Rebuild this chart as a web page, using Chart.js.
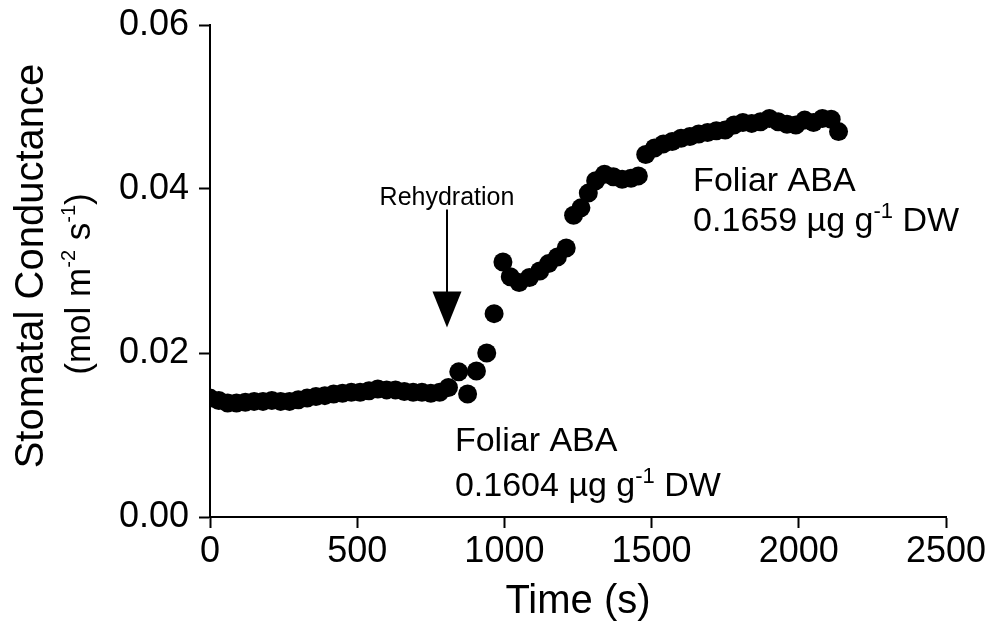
<!DOCTYPE html>
<html>
<head>
<meta charset="utf-8">
<script src="https://cdn.jsdelivr.net/npm/chart.js@4.4.1/dist/chart.umd.min.js"></script>
<style>
  html, body { margin: 0; padding: 0; background: #ffffff; }
  #wrap { width: 993px; height: 637px; position: relative; }
</style>
</head>
<body>
<div id="wrap"><canvas id="c" width="993" height="637"></canvas></div>
<script>
// ---- data ----
const timeS = [0,30,60,90,120,150,180,210,240,270,300,330,360,390,420,450,480,510,540,570,600,630,660,690,720,750,780,810,845,875,905,940,965,995,1020,1050,1085,1120,1150,1180,1210,1235,1260,1285,1310,1340,1370,1400,1430,1455,1480,1510,1540,1570,1600,1630,1660,1690,1720,1750,1780,1810,1840,1870,1900,1930,1960,1990,2020,2050,2080,2110,2135];
const conductance = [0.0145,0.0142,0.0139,0.0139,0.0140,0.0141,0.0141,0.0142,0.0141,0.0141,0.0143,0.0145,0.0147,0.0148,0.0150,0.0151,0.0152,0.0152,0.0154,0.0156,0.0155,0.0155,0.0153,0.0152,0.0152,0.0151,0.0152,0.0158,0.0177,0.0150,0.0178,0.0200,0.0248,0.0311,0.0293,0.0286,0.0292,0.0300,0.0309,0.0317,0.0328,0.0368,0.0377,0.0395,0.0410,0.0418,0.0415,0.0412,0.0413,0.0416,0.0442,0.0450,0.0455,0.0458,0.0462,0.0464,0.0467,0.0469,0.0471,0.0472,0.0478,0.0481,0.0480,0.0482,0.0486,0.0482,0.0479,0.0478,0.0484,0.0481,0.0486,0.0485,0.0470];
const xTickValues = [0,500,1000,1500,2000,2500];
const yTickValues = [0.00,0.02,0.04,0.06];
const xTitle = 'Time (s)';
const yTitleLine1 = 'Stomatal Conductance';
const yTitleLine2 = [{t:'(mol m'},{t:'-2',sup:true},{t:' s'},{t:'-1',sup:true},{t:')'}];
const rehydrationLabel = 'Rehydration';
const rehydrationTime = 805;
const arrowTop = 0.0375, arrowTip = 0.0231, rehydrationTextY = 0.0381;
const lowerNote = {time: 832, y1: 0.00805, y2: 0.00256, line1: 'Foliar ABA', line2: [{t:'0.1604 µg g'},{t:'-1',sup:true},{t:' DW'}]};
const upperNote = {time: 1641, y1: 0.0397, y2: 0.0349, line1: 'Foliar ABA', line2: [{t:'0.1659 µg g'},{t:'-1',sup:true},{t:' DW'}]};

const FONT = "'Liberation Sans', Arial, Helvetica, sans-serif";

function richWidth(ctx, segs, size, supSize) {
  let w = 0;
  for (const s of segs) {
    ctx.font = (s.sup ? supSize : size) + 'px ' + FONT;
    w += ctx.measureText(s.t).width;
  }
  return w;
}
function drawRich(ctx, segs, x, y, size, supSize, rise) {
  let cx = x;
  ctx.textBaseline = 'alphabetic';
  ctx.textAlign = 'left';
  for (const s of segs) {
    ctx.font = (s.sup ? supSize : size) + 'px ' + FONT;
    ctx.fillText(s.t, cx, s.sup ? y - rise : y);
    cx += ctx.measureText(s.t).width;
  }
}

const annotations = {
  id: 'annotations',
  afterDraw(chart) {
    const ctx = chart.ctx;
    const xs = chart.scales.x, ys = chart.scales.y;
    ctx.save();
    ctx.fillStyle = '#000';
    ctx.strokeStyle = '#000';
    // Y title
    ctx.save();
    ctx.translate(43, 266);
    ctx.rotate(-Math.PI / 2);
    ctx.font = '40px ' + FONT;
    ctx.textAlign = 'center';
    ctx.textBaseline = 'alphabetic';
    ctx.fillText(yTitleLine1, 0, 0);
    ctx.restore();
    ctx.save();
    ctx.translate(90, 284);
    ctx.rotate(-Math.PI / 2);
    const w2 = richWidth(ctx, yTitleLine2, 35, 20);
    drawRich(ctx, yTitleLine2, -w2 / 2, 0, 35, 20, 15);
    ctx.restore();

    // Rehydration arrow
    const ax = xs.getPixelForValue(rehydrationTime);
    const ay0 = ys.getPixelForValue(arrowTop);
    const ay1 = ys.getPixelForValue(arrowTip);
    const headLen = 36, headHalf = 14.5;
    ctx.lineWidth = 2;
    ctx.beginPath();
    ctx.moveTo(ax, ay0);
    ctx.lineTo(ax, ay1 - headLen + 2);
    ctx.stroke();
    ctx.beginPath();
    ctx.moveTo(ax - headHalf, ay1 - headLen);
    ctx.lineTo(ax + headHalf, ay1 - headLen);
    ctx.lineTo(ax, ay1);
    ctx.closePath();
    ctx.fill();
    ctx.font = '25px ' + FONT;
    ctx.textAlign = 'center';
    ctx.textBaseline = 'alphabetic';
    ctx.fillText(rehydrationLabel, ax, ys.getPixelForValue(rehydrationTextY));

    // Notes
    for (const n of [lowerNote, upperNote]) {
      const nx = xs.getPixelForValue(n.time);
      ctx.font = '34px ' + FONT;
      ctx.textAlign = 'left';
      ctx.fillText(n.line1, nx, ys.getPixelForValue(n.y1));
      drawRich(ctx, n.line2, nx, ys.getPixelForValue(n.y2), 34, 22, 13);
    }
    ctx.restore();
  }
};

new Chart(document.getElementById('c'), {
  type: 'scatter',
  data: {
    datasets: [{
      data: timeS.map((t, i) => ({x: t, y: conductance[i]})),
      backgroundColor: '#000',
      borderColor: '#000',
      pointRadius: 9.5,
      pointHoverRadius: 9.5,
      borderWidth: 0,
      showLine: false
    }]
  },
  options: {
    responsive: false,
    animation: false,
    devicePixelRatio: 1,
    layout: { padding: { top: 25, right: 47, left: 0, bottom: 0 } },
    plugins: { legend: { display: false }, tooltip: { enabled: false } },
    scales: {
      x: {
        type: 'linear',
        min: 0, max: 2500,
        afterBuildTicks: s => { s.ticks = xTickValues.map(v => ({value: v})); },
        afterFit: s => { s.height = 120; },
        ticks: { color: '#000', font: { family: FONT, size: 36 }, padding: 2, maxRotation: 0, callback: v => String(v) },
        grid: { display: true, drawOnChartArea: false, drawTicks: true, tickLength: 11, tickWidth: 2, tickColor: '#000' },
        border: { display: true, color: '#000', width: 2 },
        title: { display: true, text: xTitle, color: '#000', font: { family: FONT, size: 40 }, padding: { top: 0, bottom: 11 } }
      },
      y: {
        type: 'linear',
        min: 0, max: 0.06,
        afterBuildTicks: s => { s.ticks = yTickValues.map(v => ({value: v})); },
        afterFit: s => { s.width = 210; },
        ticks: { color: '#000', font: { family: FONT, size: 36, lineHeight: 0.8 }, padding: 10, callback: v => Number(v).toFixed(2) },
        grid: { display: true, drawOnChartArea: false, drawTicks: true, tickLength: 11, tickWidth: 2, tickColor: '#000' },
        border: { display: true, color: '#000', width: 2 }
      }
    }
  },
  plugins: [annotations]
});
</script>
</body>
</html>
